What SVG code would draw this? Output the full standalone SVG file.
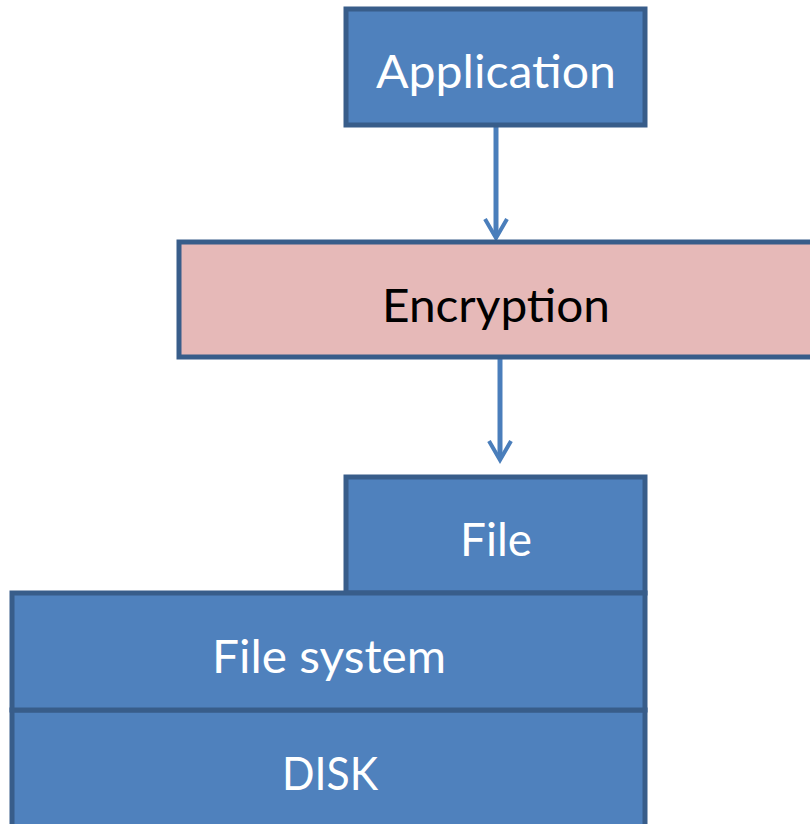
<svg xmlns="http://www.w3.org/2000/svg" width="810" height="824" viewBox="0 0 810 824">
<defs>
<style>
.box{fill:#4F81BD;stroke:#385D8A;stroke-width:5}
.enc{fill:#E6B9B8;stroke:#385D8A;stroke-width:5}
.lbl{font-family:Lato,"Open Sans","Liberation Sans",sans-serif;font-size:46px;text-anchor:middle;fill:#FFFFFF}
.dark{fill:#000000}
.conn{stroke:#4A7EBB;stroke-width:5;fill:none}
.head{stroke:#4A7EBB;stroke-width:4;fill:none}
</style>
</defs>
<rect width="810" height="824" fill="#FFFFFF"/>
<g id="connectors">
<line class="conn" x1="496" y1="125" x2="496" y2="236"/>
<polyline class="head" points="485,219 496,238 507,219"/>
<line class="conn" x1="500" y1="358" x2="500" y2="458"/>
<polyline class="head" points="489,441 500,460 511,441"/>
</g>
<g id="application">
<rect class="box" x="346" y="9" width="299" height="116"/>
<text class="lbl" x="496" y="88" textLength="240" lengthAdjust="spacingAndGlyphs">Application</text>
</g>
<g id="encryption">
<rect class="enc" x="179" y="242" width="640" height="115"/>
<text class="lbl dark" x="496" y="322" textLength="228" lengthAdjust="spacingAndGlyphs">Encryption</text>
</g>
<g id="file">
<rect class="box" x="346" y="477" width="299" height="116"/>
<text class="lbl" x="496" y="556" textLength="72" lengthAdjust="spacingAndGlyphs">File</text>
</g>
<g id="disk">
<rect class="box" x="12" y="710" width="633" height="130"/>
<text class="lbl" x="330" y="790" textLength="96" lengthAdjust="spacingAndGlyphs">DISK</text>
</g>
<g id="filesystem">
<rect class="box" x="12" y="593" width="633" height="117"/>
<text class="lbl" x="329" y="673" textLength="234" lengthAdjust="spacingAndGlyphs">File system</text>
</g>
</svg>
